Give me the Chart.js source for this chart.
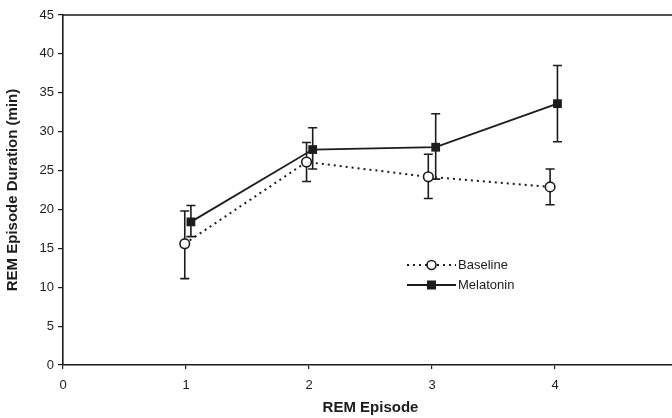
<!DOCTYPE html>
<html>
<head>
<meta charset="utf-8">
<script src="https://cdn.jsdelivr.net/npm/chart.js@4/dist/chart.umd.min.js"></script>
<style>
html,body{margin:0;padding:0;background:#fff;overflow:hidden;width:672px;height:418px;}
#wrap{position:absolute;left:0;top:0;width:700px;height:418px;}
</style>
</head>
<body>
<div id="wrap"><canvas id="c" width="700" height="418"></canvas></div>
<script>
// ---- data ----
const seriesNames = ['Baseline', 'Melatonin'];
const xTickValues = [0, 1, 2, 3, 4, 5];
const yTickValues = [0, 5, 10, 15, 20, 25, 30, 35, 40, 45];
const baselineX = [0.99, 1.98, 2.97, 3.96];
const baselineMean = [15.6, 26.1, 24.2, 22.9];
const baselineUpper = [19.8, 28.6, 27.1, 25.2];
const baselineLower = [11.1, 23.6, 21.4, 20.6];
const melatoninX = [1.04, 2.03, 3.03, 4.02];
const melatoninMean = [18.4, 27.7, 28.0, 33.6];
const melatoninUpper = [20.5, 30.5, 32.3, 38.5];
const melatoninLower = [16.5, 25.2, 23.9, 28.7];

const INK = '#1c1c1c';
const FONT = '"Liberation Sans", Arial, sans-serif';

function pts(xs, ys) { return xs.map((x, i) => ({ x: x, y: ys[i] })); }

const errorBars = {
  id: 'errorBars',
  beforeDatasetsDraw(chart) {
    const ctx = chart.ctx, xs = chart.scales.x, ys = chart.scales.y;
    const sets = [
      [baselineX, baselineUpper, baselineLower],
      [melatoninX, melatoninUpper, melatoninLower]
    ];
    ctx.save();
    ctx.strokeStyle = INK;
    ctx.lineWidth = 1.6;
    sets.forEach(([xv, up, lo]) => {
      xv.forEach((x, i) => {
        const px = xs.getPixelForValue(x);
        const pu = ys.getPixelForValue(up[i]);
        const pl = ys.getPixelForValue(lo[i]);
        ctx.beginPath();
        ctx.moveTo(px, pu); ctx.lineTo(px, pl);
        ctx.moveTo(px - 4.5, pu); ctx.lineTo(px + 4.5, pu);
        ctx.moveTo(px - 4.5, pl); ctx.lineTo(px + 4.5, pl);
        ctx.stroke();
      });
    });
    ctx.restore();
  }
};

const frameAndLegend = {
  id: 'frameAndLegend',
  afterDraw(chart) {
    const ctx = chart.ctx, a = chart.chartArea;
    ctx.save();
    ctx.strokeStyle = INK;
    ctx.lineWidth = 1.6;
    ctx.beginPath();
    ctx.moveTo(a.left, a.top); ctx.lineTo(a.right, a.top); ctx.lineTo(a.right, a.bottom);
    ctx.stroke();

    // legend
    const lx0 = a.left + 344, lx1 = a.left + 393, mx = (lx0 + lx1) / 2;
    const y1 = a.top + 250, y2 = a.top + 270;
    ctx.lineWidth = 2;
    ctx.setLineDash([2, 4]);
    ctx.beginPath(); ctx.moveTo(lx0, y1); ctx.lineTo(lx1, y1); ctx.stroke();
    ctx.setLineDash([]);
    ctx.fillStyle = '#fff';
    ctx.lineWidth = 1.6;
    ctx.beginPath(); ctx.arc(mx, y1, 4.5, 0, Math.PI * 2); ctx.fill(); ctx.stroke();
    ctx.lineWidth = 1.8;
    ctx.beginPath(); ctx.moveTo(lx0, y2); ctx.lineTo(lx1, y2); ctx.stroke();
    ctx.fillStyle = INK;
    ctx.fillRect(mx - 4.5, y2 - 4.5, 9, 9);
    ctx.font = '13px ' + FONT;
    ctx.textBaseline = 'middle';
    ctx.textAlign = 'left';
    ctx.fillText(seriesNames[0], lx1 + 2, y1);
    ctx.fillText(seriesNames[1], lx1 + 2, y2);
    ctx.restore();
  }
};

new Chart(document.getElementById('c'), {
  type: 'scatter',
  data: {
    datasets: [
      {
        label: seriesNames[0],
        data: pts(baselineX, baselineMean),
        showLine: true,
        borderColor: INK,
        borderWidth: 2,
        borderDash: [2, 4],
        pointStyle: 'circle',
        pointRadius: 4.8,
        pointBorderWidth: 1.6,
        pointBackgroundColor: '#fff',
        pointBorderColor: INK,
        order: 2
      },
      {
        label: seriesNames[1],
        data: pts(melatoninX, melatoninMean),
        showLine: true,
        borderColor: INK,
        borderWidth: 1.8,
        pointStyle: 'rect',
        pointRadius: 6.2,
        pointBorderWidth: 0,
        pointBackgroundColor: INK,
        pointBorderColor: INK,
        order: 1
      }
    ]
  },
  options: {
    responsive: false,
    animation: false,
    devicePixelRatio: 1,
    layout: { padding: { left: 0, top: 15, right: 22, bottom: 0 } },
    plugins: { legend: { display: false }, tooltip: { enabled: false } },
    scales: {
      x: {
        type: 'linear',
        min: 0, max: 5,
        afterBuildTicks(s) { s.ticks = xTickValues.map(v => ({ value: v })); },
        afterFit(s) { s.height = 53; },
        grid: { display: true, drawOnChartArea: false, drawTicks: true, tickLength: 4, color: INK, lineWidth: 1.2 },
        border: { display: true, color: INK, width: 1.6 },
        ticks: { color: INK, font: { family: FONT, size: 13 }, padding: 9, maxRotation: 0 },
        title: { display: true, text: 'REM Episode', color: INK, font: { family: FONT, size: 15, weight: 'bold' }, padding: { top: 0, bottom: 1 } }
      },
      y: {
        type: 'linear',
        min: 0, max: 45,
        afterBuildTicks(s) { s.ticks = yTickValues.map(v => ({ value: v })); },
        afterFit(s) { s.width = 63; },
        grid: { display: true, drawOnChartArea: false, drawTicks: true, tickLength: 5, color: INK, lineWidth: 1.2 },
        border: { display: true, color: INK, width: 1.6 },
        ticks: { color: INK, font: { family: FONT, size: 13 }, padding: 4 },
        title: { display: true, text: 'REM Episode Duration (min)', color: INK, font: { family: FONT, size: 15, weight: 'bold' }, padding: { top: 4, bottom: 0 } }
      }
    }
  },
  plugins: [errorBars, frameAndLegend]
});
</script>
</body>
</html>
